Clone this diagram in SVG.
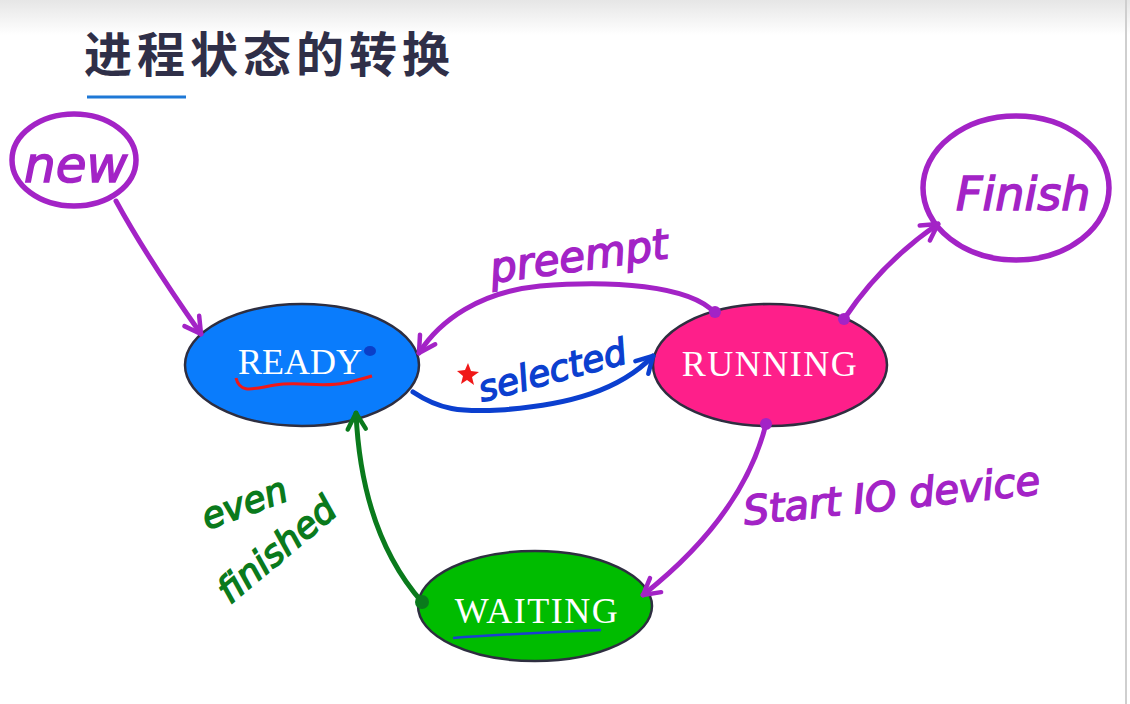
<svg xmlns="http://www.w3.org/2000/svg" width="1130" height="704" viewBox="0 0 1130 704">
<defs>
<linearGradient id="bg" x1="0" y1="0" x2="0" y2="1">
<stop offset="0" stop-color="#e6e6e6"/><stop offset="0.05" stop-color="#ffffff"/><stop offset="1" stop-color="#ffffff"/>
</linearGradient>
<marker id="ap" viewBox="0 0 20 20" refX="17" refY="10" markerWidth="20" markerHeight="20" markerUnits="userSpaceOnUse" orient="auto" overflow="visible">
<path d="M1,1 L17,10 L1,19" fill="none" stroke="#a323c6" stroke-width="4.5" stroke-linecap="round" stroke-linejoin="round"/>
</marker>
<marker id="ab" viewBox="0 0 20 20" refX="17" refY="10" markerWidth="20" markerHeight="20" markerUnits="userSpaceOnUse" orient="auto" overflow="visible">
<path d="M1,1 L17,10 L1,19" fill="none" stroke="#0b3fcf" stroke-width="4.5" stroke-linecap="round" stroke-linejoin="round"/>
</marker>
<marker id="ag" viewBox="0 0 20 20" refX="17" refY="10" markerWidth="20" markerHeight="20" markerUnits="userSpaceOnUse" orient="auto" overflow="visible">
<path d="M1,1 L17,10 L1,19" fill="none" stroke="#0a7a1c" stroke-width="4.5" stroke-linecap="round" stroke-linejoin="round"/>
</marker>
</defs>
<style>
.pl{fill:none;stroke:#a323c6;stroke-width:5;stroke-linecap:round}
.bl{fill:none;stroke:#0b3fcf;stroke-width:5;stroke-linecap:round}
.gl{fill:none;stroke:#0a7a1c;stroke-width:5;stroke-linecap:round}
.state{stroke:#2e2e40;stroke-width:2.5}
.stxt{font-family:"Liberation Serif",serif;font-size:36px;fill:#ffffff;text-anchor:middle}
.hand{font-family:"DejaVu Sans",sans-serif;font-style:italic}
.hp{fill:#a323c6;stroke:#a323c6;stroke-width:1.5}
.hb{fill:#0b3fcf;stroke:#0b3fcf;stroke-width:1.5}
.hg{fill:#0a7a1c;stroke:#0a7a1c;stroke-width:1.5}
.circ{fill:none;stroke:#a323c6;stroke-width:5.5}
</style>
<rect x="0" y="0" width="1130" height="704" fill="url(#bg)"/>
<line x1="1126" y1="0" x2="1126" y2="704" stroke="#cfcfcf" stroke-width="2"/>
<g id="title">
<text x="84" y="72" font-family="'Noto Sans CJK SC',sans-serif" font-weight="bold" font-size="48" fill="#2f2f48" letter-spacing="5">进程状态的转换</text>
<line x1="87" y1="97" x2="186" y2="97" stroke="#1e78d6" stroke-width="3"/>
</g>
<g id="node-new">
<ellipse class="circ" cx="74" cy="160" rx="62" ry="46"/>
<text class="hand hp" x="24" y="182" font-size="50">new</text>
</g>
<g id="node-ready">
<ellipse class="state" cx="302" cy="365" rx="117" ry="61" fill="#0a7cfc"/>
<text class="stxt" x="300" y="374">READY</text>
<path d="M236,378 C240,395 255,388 275,385 C300,381 320,388 345,383 C355,381 365,378 372,376" fill="none" stroke="#f01818" stroke-width="3"/>
<ellipse cx="370" cy="351" rx="6" ry="5" fill="#0a3fc8"/>
</g>
<g id="node-running">
<ellipse class="state" cx="770" cy="365" rx="117" ry="61" fill="#fe1f8a"/>
<text class="stxt" x="770" y="376" letter-spacing="1.5">RUNNING</text>
</g>
<g id="node-waiting">
<ellipse class="state" cx="535" cy="606" rx="117" ry="55" fill="#00bc00"/>
<text class="stxt" x="537" y="623" letter-spacing="1.5">WAITING</text>
<path d="M453,638 C500,634 560,632 601,630" fill="none" stroke="#1a3fd0" stroke-width="2.5"/>
</g>
<g id="node-finish">
<ellipse class="circ" cx="1016" cy="188" rx="93" ry="72"/>
<text class="hand hp" x="956" y="210" font-size="46">Finish</text>
</g>
<g id="connectors">
<path class="pl" d="M116,201 C140,245 170,290 201,334" marker-end="url(#ap)"/>
<path class="pl" d="M715,313 C690,285 610,280 540,286 C480,292 440,320 419,353" marker-end="url(#ap)"/>
<circle cx="715" cy="312" r="6" fill="#a323c6"/>
<path class="bl" d="M413,392 C440,410 460,412 500,410 C570,405 620,390 653,356" marker-end="url(#ab)"/>
<path class="pl" d="M844,319 C870,280 900,250 938,224" marker-end="url(#ap)"/>
<circle cx="844" cy="319" r="6" fill="#a323c6"/>
<path class="pl" d="M766,424 C748,495 700,550 643,595" marker-end="url(#ap)"/>
<circle cx="766" cy="424" r="6" fill="#a323c6"/>
<path class="gl" d="M422,602 C385,560 360,500 356,413" marker-end="url(#ag)"/>
<circle cx="422" cy="602" r="7" fill="#0a7a1c"/>
</g>
<g id="labels">
<text class="hand hp" x="492" y="283" font-size="42" transform="rotate(-8 492 283)">preempt</text>
<text class="hand hb" x="482" y="402" font-size="36" transform="rotate(-15 482 402)">selected</text>
<path d="M468,363 L471,371 L479,372 L472,377 L474,385 L467,380 L461,384 L463,376 L457,371 L465,370 Z" fill="#f01818"/>
<text class="hand hp" x="745" y="525" font-size="40" transform="rotate(-6 745 525)">Start IO device</text>
<text class="hand hg" x="207" y="530" font-size="36" transform="rotate(-20 207 530)">even</text>
<text class="hand hg" x="230" y="605" font-size="36" transform="rotate(-40 230 605)">finished</text>
</g>
</svg>
